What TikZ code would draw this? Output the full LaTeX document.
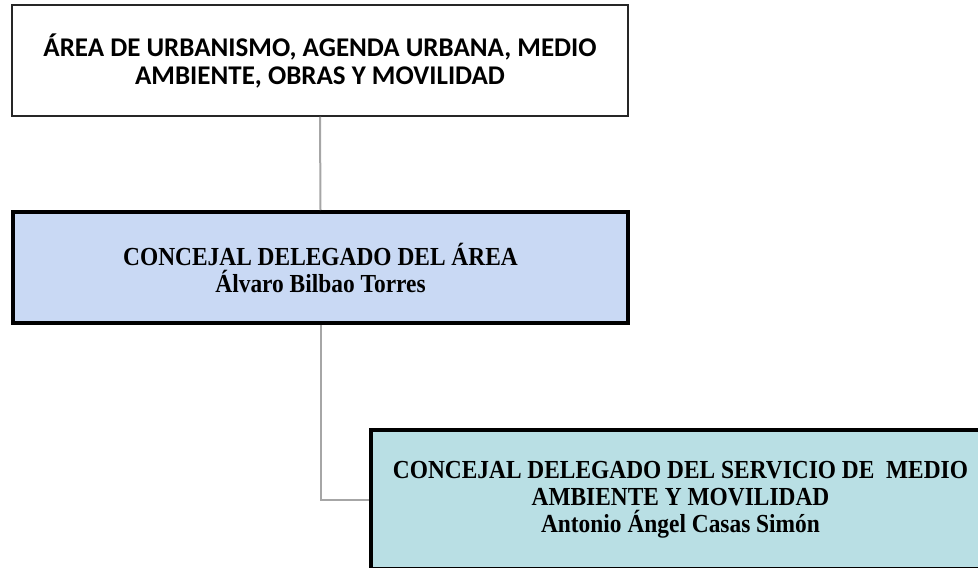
\documentclass[tikz,border=0pt]{standalone}
\usepackage{fontspec}
\setmainfont{Liberation Serif}
\newfontfamily\calfont{Carlito}
\newfontfamily\cambfont[FakeStretch=0.9]{Liberation Serif}
\definecolor{boxblue}{HTML}{C9D9F4}
\definecolor{boxteal}{HTML}{B9DFE4}
\definecolor{linkgray}{HTML}{A6A6A6}
\begin{document}
\begin{tikzpicture}[x=1pt,y=-1pt,
  areabox/.style={draw=black!85,line width=1.5pt,fill=white,minimum width=616pt,minimum height=111pt,align=center,inner sep=0pt,font=\calfont\bfseries\fontsize{27}{28}\selectfont},
  conbox/.style={draw=black,line width=4pt,align=center,inner sep=0pt,font=\cambfont\bfseries\fontsize{26}{27}\selectfont},
  link/.style={draw=linkgray,line width=2pt}]
\useasboundingbox (0,0) rectangle (978,568);
\node[areabox] (area) at (320,60.5) {ÁREA DE URBANISMO, AGENDA URBANA, MEDIO\\AMBIENTE, OBRAS Y MOVILIDAD};
\node[conbox,fill=boxblue,minimum width=615pt,minimum height=111pt] (conc) at (320.5,267.5) {CONCEJAL DELEGADO DEL ÁREA\\Álvaro Bilbao Torres};
\node[conbox,fill=boxteal,minimum width=619pt,minimum height=139pt] (serv) at (680.5,499.5) {CONCEJAL DELEGADO DEL SERVICIO DE\ \ MEDIO\\AMBIENTE Y MOVILIDAD\\Antonio Ángel Casas Simón};
\draw[link] (area.south) -- (conc.north);
\draw[link] (conc.south) |- (serv.west);
\end{tikzpicture}
\end{document}
